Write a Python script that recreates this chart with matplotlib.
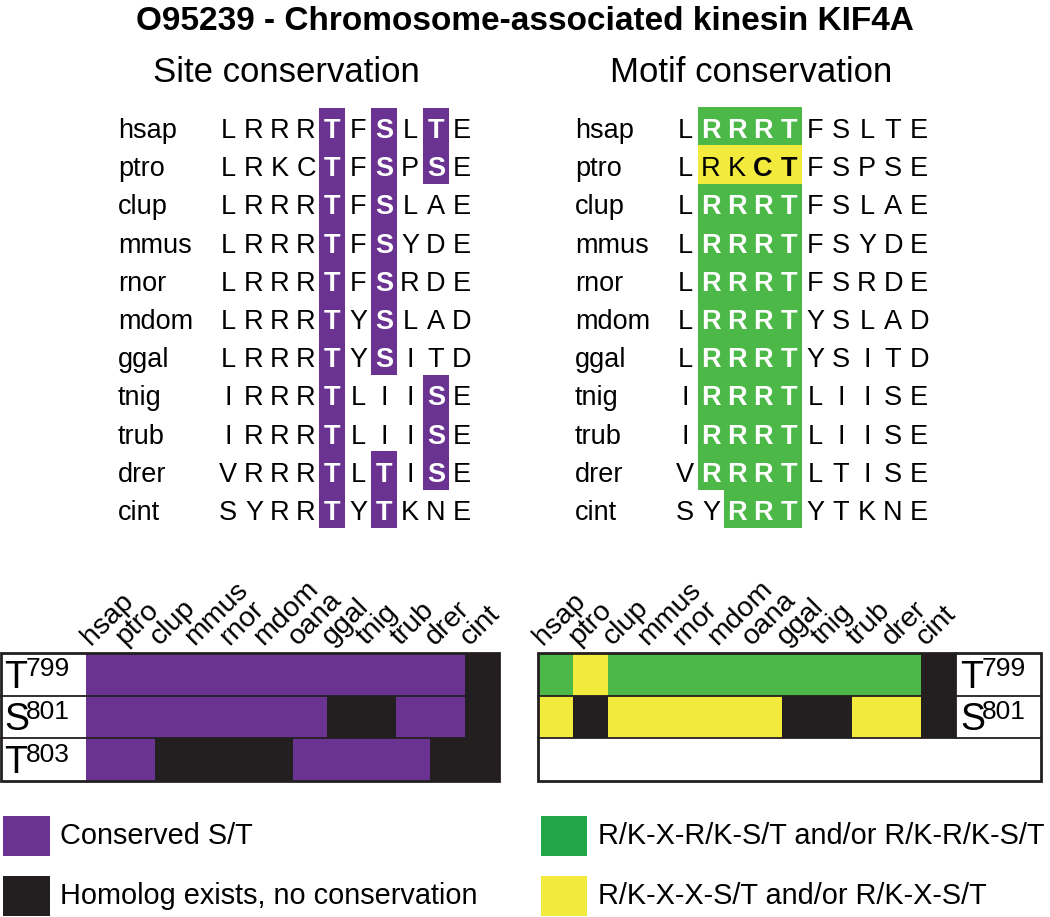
import numpy as np
import matplotlib
matplotlib.use('Agg')
import matplotlib.pyplot as plt
from matplotlib.patches import Rectangle
from matplotlib.colors import ListedColormap

# ---- data ----
title = 'O95239 - Chromosome-associated kinesin KIF4A'

aln_species = ['hsap', 'ptro', 'clup', 'mmus', 'rnor', 'mdom', 'ggal', 'tnig', 'trub', 'drer', 'cint']
aln_seqs = ['LRRRTFSLTE', 'LRKCTFSPSE', 'LRRRTFSLAE', 'LRRRTFSYDE', 'LRRRTFSRDE', 'LRRRTYSLAD',
            'LRRRTYSITD', 'IRRRTLIISE', 'IRRRTLIISE', 'VRRRTLTISE', 'SYRRTYTKNE']
# conserved S/T per alignment column (row indices)
site_hits = {4: [0, 1, 2, 3, 4, 5, 6, 7, 8, 9, 10],
             6: [0, 1, 2, 3, 4, 5, 6, 9, 10],
             8: [0, 1, 7, 8, 9]}
# motif block: first column, last column, kind (g = strong, y = weak)
motif_start = [1, 1, 1, 1, 1, 1, 1, 1, 1, 1, 2]
motif_end = [4, 4, 4, 4, 4, 4, 4, 4, 4, 4, 4]
motif_kind = ['g', 'y', 'g', 'g', 'g', 'g', 'g', 'g', 'g', 'g', 'g']
weak_bold = {1: [3, 4]}  # ptro: C and T bold

map_species = ['hsap', 'ptro', 'clup', 'mmus', 'rnor', 'mdom', 'oana', 'ggal', 'tnig', 'trub', 'drer', 'cint']
sites = ['T', 'S', 'T']
site_num = ['799', '801', '803']
# 1 = conserved S/T, 0 = homolog, no conservation
site_map = np.array([
    [1, 1, 1, 1, 1, 1, 1, 1, 1, 1, 1, 0],
    [1, 1, 1, 1, 1, 1, 1, 0, 0, 1, 1, 0],
    [1, 1, 0, 0, 0, 0, 1, 1, 1, 1, 0, 0],
])
# 2 = strong motif, 1 = weak motif, 0 = no motif, -1 = nothing
motif_map = np.array([
    [2, 1, 2, 2, 2, 2, 2, 2, 2, 2, 2, 0],
    [1, 0, 1, 1, 1, 1, 1, 0, 0, 1, 1, 0],
    [-1, -1, -1, -1, -1, -1, -1, -1, -1, -1, -1, -1],
])
legend_left = ['Conserved S/T', 'Homolog exists, no conservation']
legend_right = ['R/K-X-R/K-S/T and/or R/K-R/K-S/T', 'R/K-X-X-S/T and/or R/K-X-S/T']

# ---- style ----
purple = '#6a3291'
black = '#231f20'
green = '#4cb848'
green_leg = '#21a64a'
yellow = '#f2ea3d'
narrow = ['Liberation Sans Narrow', 'Liberation Sans', 'DejaVu Sans']
sans = ['Liberation Sans', 'DejaVu Sans']

fig = plt.figure(figsize=(10.5, 9.17), dpi=100)
ax = fig.add_axes([0, 0, 1, 1])
ax.set_xlim(0, 1050)
ax.set_ylim(917, 0)
ax.axis('off')

ax.text(525, 30, title, ha='center', va='baseline', fontsize=24, fontweight='bold', family=narrow)
ax.text(286, 82, 'Site conservation', ha='center', va='baseline', fontsize=25, family=narrow)
ax.text(751, 82, 'Motif conservation', ha='center', va='baseline', fontsize=25, family=narrow)

# alignments
row0, dy = 128, 38.2
col0, dx = 228, 26
shift = 457
fs = 19.5
ytop = row0 - 20.5

# site boxes, contiguous rows merged into one box
for j, rows in site_hits.items():
    rows = sorted(rows)
    start = prev = rows[0]
    for r in rows[1:] + [None]:
        if r is not None and r == prev + 1:
            prev = r
            continue
        ax.add_patch(Rectangle((col0 + j * dx - dx / 2, ytop + start * dy), dx, (prev - start + 1) * dy,
                               color=purple, lw=0))
        if r is not None:
            start = prev = r

for i, (sp, seq) in enumerate(zip(aln_species, aln_seqs)):
    y = row0 + i * dy
    for lab_x in [118, 118 + shift]:
        ax.text(lab_x, y + 10, sp, ha='left', va='baseline', fontsize=fs, family=sans)
    # site panel
    for j, ch in enumerate(seq):
        x = col0 + j * dx
        hit = j in site_hits and i in site_hits[j]
        ax.text(x, y + 10, ch, ha='center', va='baseline', fontsize=fs, family=sans,
                color='white' if hit else 'black', fontweight='bold' if hit else 'normal')
    # motif panel
    a, b = motif_start[i], motif_end[i]
    c = green if motif_kind[i] == 'g' else yellow
    ax.add_patch(Rectangle((col0 + shift + a * dx - dx / 2, ytop + i * dy - 0.5), (b - a + 1) * dx, dy + 1,
                           color=c, lw=0, zorder=1 if motif_kind[i] == 'g' else 1.5))
    for j, ch in enumerate(seq):
        x = col0 + shift + j * dx
        inside = a <= j <= b
        if inside and motif_kind[i] == 'g':
            colr, wt = 'white', 'bold'
        elif inside and j in weak_bold.get(i, []):
            colr, wt = 'black', 'bold'
        else:
            colr, wt = 'black', 'normal'
        ax.text(x, y + 10, ch, ha='center', va='baseline', fontsize=fs, family=sans, color=colr, fontweight=wt)

# heat maps
top, rh = 653, 42.5
nrow, ncol = site_map.shape
ybins = top + rh * np.arange(nrow + 1)

def heat(x_left, x_right, data, cmap, lab_x0, lab_x1, box_x0, box_x1):
    xb = np.linspace(x_left, x_right, ncol + 1)
    ax.pcolormesh(xb, ybins, np.ma.masked_less(data, 0), cmap=cmap, vmin=0, vmax=cmap.N - 1)
    for j, sp in enumerate(map_species):
        ax.text(xb[j] + 5, 646, sp, rotation=45, rotation_mode='anchor', ha='left', va='baseline',
                fontsize=20.5, family=sans)
    for r in range(nrow):
        if (data[r] < 0).all():
            continue
        ax.text(lab_x0, ybins[r] + 35, sites[r], ha='left', va='baseline', fontsize=27, family=sans)
        ax.text(lab_x1, ybins[r] + 23.5, site_num[r], ha='left', va='baseline', fontsize=19, family=sans)
    for yy in ybins[1:-1]:
        ax.plot([box_x0, box_x1], [yy, yy], color=black, lw=1.3)
    ax.add_patch(Rectangle((box_x0, ybins[0]), box_x1 - box_x0, ybins[-1] - ybins[0],
                           fill=False, ec=black, lw=2))

heat(86, 499, site_map, ListedColormap([black, purple]), 4, 26, 1, 499)
heat(538, 956, motif_map, ListedColormap([black, yellow, green]), 960, 982, 538, 1041)
ax.plot([956, 956], [ybins[0], ybins[2]], color=black, lw=1.3)

# legends
for k, (lab, c) in enumerate(zip(legend_left, [purple, black])):
    y = 816 + 60 * k
    ax.add_patch(Rectangle((3, y), 47, 40, color=c, lw=0))
    ax.text(60, y + 28, lab, ha='left', va='baseline', fontsize=20.8, family=sans)
for k, (lab, c) in enumerate(zip(legend_right, [green_leg, yellow])):
    y = 816 + 60 * k
    ax.add_patch(Rectangle((541, y), 46, 40, color=c, lw=0))
    ax.text(598, y + 28, lab, ha='left', va='baseline', fontsize=20.8, family=sans)

fig.savefig('out.png', dpi=100)
